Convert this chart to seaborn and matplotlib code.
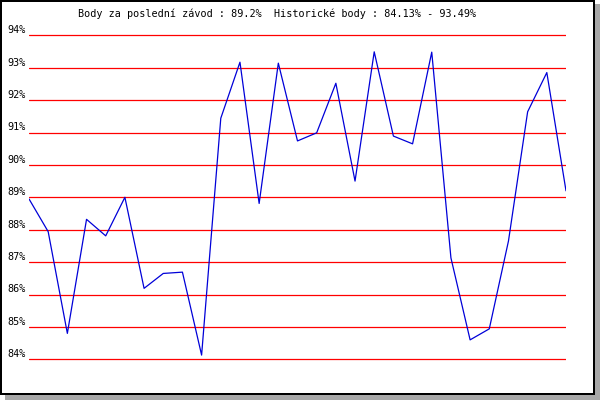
#!/usr/bin/env python3
import matplotlib

matplotlib.use("Agg")

import matplotlib.pyplot as plt
import pandas as pd
import seaborn as sns
from matplotlib.patches import Rectangle

# race-by-race score (%)
RACES = list(range(1, 30))
SCORES = [
    88.95, 87.94, 84.80, 88.32, 87.81, 89.00, 86.19, 86.65, 86.69, 84.13,
    91.44, 93.17, 88.81, 93.14, 90.74, 90.99, 92.52, 89.50, 93.49, 90.89,
    90.65, 93.48, 87.13, 84.60, 84.94, 87.65, 91.64, 92.85, 89.20,
]
Y_TICKS = list(range(84, 95))
TITLE = "Body za poslední závod : 89.2%  Historické body : 84.13% - 93.49%"

W, H = 600, 400


def px_x(x):
    return x / W


def px_y(y):
    return 1 - y / H


def main() -> None:
    sns.set_theme(style="white")
    plt.rcParams["font.family"] = ["DejaVu Sans Mono", "DejaVu Sans"]

    fig = plt.figure(figsize=(6, 4), dpi=100, facecolor="white")

    # drop shadow + black frame
    fig.patches.append(Rectangle((px_x(5), 0), 1 - px_x(5), px_y(4), transform=fig.transFigure,
                                 facecolor="#a8a8a8", edgecolor="none", zorder=0))
    fig.patches.append(Rectangle((px_x(1), px_y(394)), 593 / W, 393 / H, transform=fig.transFigure,
                                 facecolor="white", edgecolor="black", linewidth=1.44, zorder=1))

    # axes: 84% at y=359.3 px, 94% at y=35.3 px, data spans x=29..566 px
    ppu = 32.4
    y_lo, y_hi = 83.9, 94.1
    top = 35.3 - (y_hi - 94) * ppu
    bottom = 359.3 + (84 - y_lo) * ppu
    ax = fig.add_axes([px_x(29), px_y(bottom), (566 - 29) / W, (bottom - top) / H])
    ax.set_facecolor("none")
    ax.set_zorder(2)

    df = pd.DataFrame({"race": RACES, "score": SCORES})
    sns.lineplot(data=df, x="race", y="score", color="#0000d8", linewidth=0.9, ax=ax, zorder=3)

    ax.set_xlim(RACES[0], RACES[-1])
    ax.set_ylim(y_lo, y_hi)
    ax.set_xticks([])
    ax.set_yticks(Y_TICKS)
    ax.set_yticklabels([f"{t}%" for t in Y_TICKS])
    ax.yaxis.grid(True, color="#ff0000", linewidth=0.9)
    ax.set_axisbelow(True)
    ax.tick_params(axis="y", length=0, pad=2.2, labelsize=7.3, labelcolor="black")
    for lab in ax.get_yticklabels():
        lab.set_va("bottom")
    ax.set_xlabel("")
    ax.set_ylabel("")
    sns.despine(ax=ax, left=True, bottom=True)

    fig.text(px_x(277), px_y(14), TITLE, ha="center", va="center", fontsize=7.3, color="black", zorder=4)

    fig.savefig("out.png", dpi=100, facecolor="white")
    plt.close(fig)


if __name__ == "__main__":
    main()
